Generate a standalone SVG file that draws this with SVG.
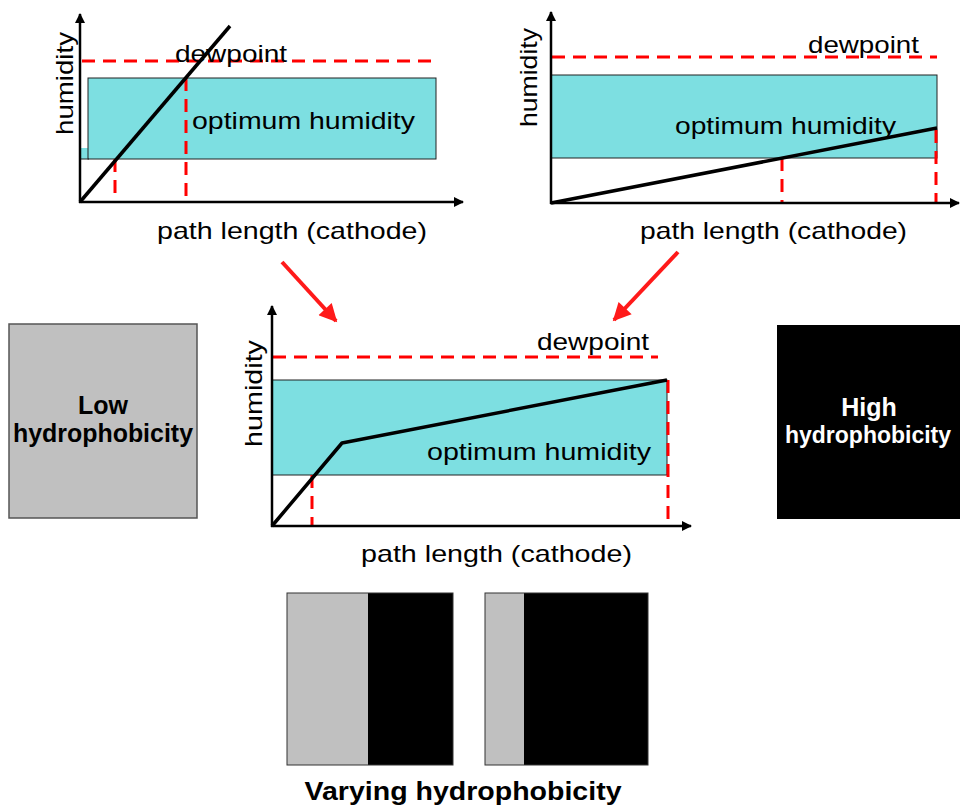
<svg xmlns="http://www.w3.org/2000/svg" width="960" height="807" viewBox="0 0 960 807">
<style>
.bg{fill:#fff}
.opt{fill:#7ddfe1;stroke:#222;stroke-width:1}
.axis{stroke:#000;stroke-width:2.5;fill:none}
.data{stroke:#000;stroke-width:3.5;fill:none;stroke-linejoin:round}
.dash{stroke:#ff0000;stroke-width:3;stroke-dasharray:13 8;fill:none}
.lbl{font-family:"Liberation Sans",Arial,sans-serif;font-size:24px;fill:#000}
.bold{font-family:"Liberation Sans",Arial,sans-serif;font-weight:bold;font-size:25px;text-anchor:middle}
.red{stroke:#ff1a1a;stroke-width:4;fill:none}
</style>
<defs>
<marker id="axh" viewBox="0 0 10 10" refX="9" refY="5" markerWidth="12" markerHeight="10" orient="auto" markerUnits="userSpaceOnUse">
<path d="M0,0 L10,5 L0,10 z" fill="#000"/>
</marker>
<marker id="rah" viewBox="0 0 10 10" refX="9" refY="5" markerWidth="20" markerHeight="18" orient="auto" markerUnits="userSpaceOnUse">
<path d="M0,0 L10,5 L0,10 z" fill="#ff1a1a"/>
</marker>
</defs>
<rect class="bg" x="0" y="0" width="960" height="807"/>

<g id="chart1">
<rect x="81" y="148" width="9" height="11" fill="#7ddfe1"/>
<rect class="opt" x="88" y="78" width="348" height="81"/>
<line x1="81" y1="159" x2="89" y2="159" stroke="#222" stroke-width="1"/>
<line class="dash" x1="82" y1="61" x2="438" y2="61"/>
<line class="dash" x1="115" y1="159" x2="115" y2="202"/>
<line class="dash" x1="186" y1="78" x2="186" y2="202"/>
<line class="data" x1="80" y1="202" x2="230" y2="26"/>
<line class="axis" x1="80" y1="203" x2="80" y2="14" marker-end="url(#axh)"/>
<line class="axis" x1="79" y1="202" x2="463" y2="202" marker-end="url(#axh)"/>
<text class="lbl" x="175" y="62" textLength="112" lengthAdjust="spacingAndGlyphs">dewpoint</text>
<text class="lbl" x="192" y="129" textLength="223" lengthAdjust="spacingAndGlyphs">optimum humidity</text>
<text class="lbl" x="157" y="239" textLength="270" lengthAdjust="spacingAndGlyphs">path length (cathode)</text>
<text class="lbl" transform="translate(73,135) rotate(-90)" textLength="103" lengthAdjust="spacingAndGlyphs">humidity</text>
</g>

<g id="chart2">
<rect class="opt" x="551" y="75" width="386" height="83"/>
<line class="dash" x1="552" y1="57" x2="937" y2="57"/>
<line class="dash" x1="782" y1="158" x2="782" y2="203"/>
<line class="dash" x1="936" y1="130" x2="936" y2="203"/>
<line class="data" x1="551" y1="203" x2="937" y2="128"/>
<line class="axis" x1="551" y1="204" x2="551" y2="12" marker-end="url(#axh)"/>
<line class="axis" x1="550" y1="203" x2="959" y2="203" marker-end="url(#axh)"/>
<text class="lbl" x="808" y="53" textLength="111" lengthAdjust="spacingAndGlyphs">dewpoint</text>
<text class="lbl" x="675" y="134" textLength="221" lengthAdjust="spacingAndGlyphs">optimum humidity</text>
<text class="lbl" x="640" y="239" textLength="267" lengthAdjust="spacingAndGlyphs">path length (cathode)</text>
<text class="lbl" transform="translate(537,127) rotate(-90)" textLength="99" lengthAdjust="spacingAndGlyphs">humidity</text>
</g>

<g id="chart3">
<rect class="opt" x="272" y="380" width="395" height="95"/>
<line class="dash" x1="273" y1="357" x2="658" y2="357"/>
<line class="dash" x1="312" y1="475" x2="312" y2="526"/>
<line class="dash" x1="668" y1="380" x2="668" y2="526"/>
<polyline class="data" points="272,526 342,443 667,380"/>
<line class="axis" x1="272" y1="527" x2="272" y2="306" marker-end="url(#axh)"/>
<line class="axis" x1="271" y1="526" x2="691" y2="526" marker-end="url(#axh)"/>
<text class="lbl" x="537" y="350" textLength="112" lengthAdjust="spacingAndGlyphs">dewpoint</text>
<text class="lbl" x="427" y="460" textLength="224" lengthAdjust="spacingAndGlyphs">optimum humidity</text>
<text class="lbl" x="361" y="562" textLength="271" lengthAdjust="spacingAndGlyphs">path length (cathode)</text>
<text class="lbl" transform="translate(262,447) rotate(-90)" textLength="107" lengthAdjust="spacingAndGlyphs">humidity</text>
</g>

<g id="low">
<rect x="9" y="324" width="188" height="194" fill="#c0c0c0" stroke="#555" stroke-width="1.5"/>
<text class="bold" x="103" y="414" fill="#000">Low</text>
<text class="bold" x="103" y="442" fill="#000" textLength="180" lengthAdjust="spacingAndGlyphs">hydrophobicity</text>
</g>

<g id="high">
<rect x="777" y="325" width="183" height="194" fill="#000"/>
<text class="bold" x="869" y="416" fill="#fff">High</text>
<text class="bold" x="868" y="443" fill="#fff" style="font-size:23px" textLength="166" lengthAdjust="spacingAndGlyphs">hydrophobicity</text>
</g>

<g id="varying">
<rect x="287" y="593" width="81" height="172" fill="#c0c0c0"/>
<rect x="368" y="593" width="85" height="172" fill="#000"/>
<rect x="287" y="593" width="166" height="172" fill="none" stroke="#333" stroke-width="1"/>
<rect x="485" y="593" width="39" height="172" fill="#c0c0c0"/>
<rect x="524" y="593" width="124" height="172" fill="#000"/>
<rect x="485" y="593" width="163" height="172" fill="none" stroke="#333" stroke-width="1"/>
<text class="bold" x="463" y="800" fill="#000" textLength="317" lengthAdjust="spacingAndGlyphs">Varying hydrophobicity</text>
</g>

<g id="connectors">
<line class="red" x1="282" y1="262" x2="336" y2="321" marker-end="url(#rah)"/>
<line class="red" x1="678" y1="252" x2="614" y2="320" marker-end="url(#rah)"/>
</g>
</svg>
